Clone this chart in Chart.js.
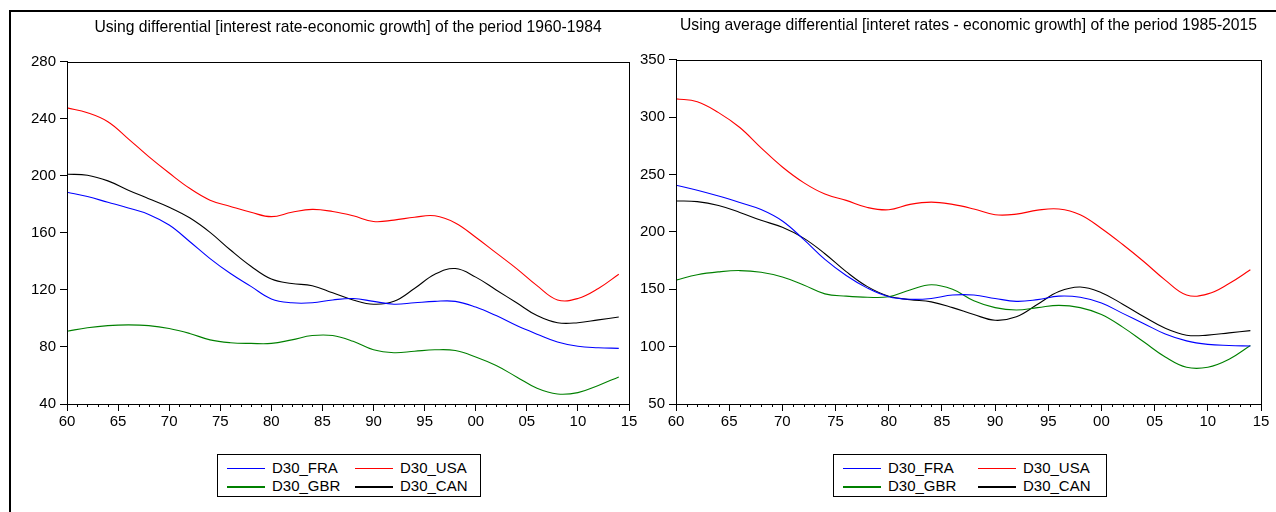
<!DOCTYPE html>
<html>
<head>
<meta charset="utf-8">
<script src="https://cdn.jsdelivr.net/npm/chart.js@4.4.0/dist/chart.umd.min.js"></script>
<style>
  html, body { margin: 0; padding: 0; background: #fff; }
  #page { position: relative; width: 1276px; height: 512px; overflow: hidden; font-family: "Liberation Sans", Arial, sans-serif; }
  #frame { position: absolute; left: 9px; top: 10px; width: 1300px; height: 600px; border-left: 2px solid #000; border-top: 2px solid #000; }
  canvas { position: absolute; top: 0; }
  .legend { position: absolute; top: 454px; height: 43px; border: 1px solid #000; box-sizing: border-box; background: #fff; }
  .legend .item { position: absolute; font-size: 15px; line-height: 18px; color: #000; white-space: nowrap; }
  .legend .swatch { position: absolute; top: 9px; width: 38px; }
  .legend .txt { position: absolute; left: 45px; top: 0; }
</style>
</head>
<body>
<div id="page">
  <div id="frame"></div>
  <canvas id="chartLeft" width="640" height="440" style="left:0"></canvas>
  <canvas id="chartRight" width="636" height="440" style="left:640px"></canvas>
  <div class="legend" id="legendLeft" style="left:217px; width:264px;"></div>
  <div class="legend" id="legendRight" style="left:833px; width:274px;"></div>
</div>
<script>
// years shared by both panels
var years = [1960, 1962, 1964, 1966, 1968, 1970, 1972, 1974, 1976, 1978, 1980, 1982, 1984, 1986,
             1988, 1990, 1992, 1994, 1996, 1998, 2000, 2002, 2004, 2006, 2008, 2010, 2012, 2014];

// left panel: differential of 1960-1984
var fraA = [188.5, 185.5, 181.5, 177.5, 173, 165.5, 154, 142, 131.5, 122.5, 113.7, 111, 111, 113,
            114, 112, 110, 111, 112, 112, 108, 102, 95, 89, 83.5, 80.5, 79.5, 79];
var usaA = [247.7, 244.3, 238, 226, 213.5, 202, 191.3, 183, 178.6, 174.5, 171.4, 174.5, 176.5, 175,
            172, 168, 169, 171, 172, 167, 157, 146, 135, 123, 113, 114, 121, 131];
var gbrA = [91, 93.5, 95, 95.5, 95, 93, 89.5, 85, 83, 82.5, 82.5, 85, 88, 88,
            84, 78, 76, 77, 78, 77.5, 73, 67, 59, 51, 47, 48, 53, 59];
var canA = [201.2, 200.5, 196.5, 190, 184, 178, 170.6, 160.4, 148, 136.6, 127.6, 124.5, 123, 118,
            113, 110, 112, 121, 131, 135, 129, 120, 111, 102, 97, 97, 99, 101];

// right panel: average differential of 1985-2015
var fraB = [240.7, 236.4, 231.3, 225.6, 219.5, 209.5, 193.5, 176, 162, 151, 143.5, 141.3, 142, 145,
            145, 142, 139.5, 141, 144, 143, 138, 129, 120, 111, 105, 102, 101, 100.5];
var usaB = [316, 313.5, 304, 291, 273.3, 256.6, 243, 233, 227.5, 221.3, 219.3, 224, 226, 224,
            220, 215, 215.5, 219, 220, 215, 203, 189, 174, 158, 145, 146, 155, 167];
var gbrB = [158, 162.7, 165.2, 166.3, 164.8, 160.7, 153.8, 146, 144, 143, 143.5, 149.4, 154, 150,
            140, 134, 132, 134, 136, 134, 128, 117, 104, 91, 82, 82, 89, 101];
var canB = [227, 226.4, 223, 217, 210.1, 204, 194.6, 181, 165.4, 152.3, 144, 141, 139, 134,
            128, 123, 126, 137, 148, 152, 147, 137, 126, 116, 110, 110, 112, 114];

var seriesNames = ["D30_FRA", "D30_USA", "D30_GBR", "D30_CAN"];
var seriesColors = ["#0000ff", "#ff0000", "#008000", "#000000"];
var legendLineWidths = [1, 1, 2, 2];

var yTicksA = [40, 80, 120, 160, 200, 240, 280];
var yTicksB = [50, 100, 150, 200, 250, 300, 350];

var font = { family: "'Liberation Sans', Arial, sans-serif", size: 15 };

function pairs(vals) {
    return vals.map(function (v, i) { return { x: years[i], y: v }; });
}

// box around the plot + the short yearly ticks under the x axis
var plotFrame = {
    id: 'plotFrame',
    afterDraw: function (chart) {
        var ctx = chart.ctx, a = chart.chartArea, xs = chart.scales.x;
        ctx.save();
        ctx.strokeStyle = '#000';
        ctx.lineWidth = 1;
        ctx.strokeRect(Math.round(a.left) + 0.5, Math.round(a.top) + 0.5,
                       Math.round(a.right - a.left), Math.round(a.bottom - a.top));
        ctx.beginPath();
        for (var yr = 1961; yr < 2015; yr++) {
            if (yr % 5 === 0) continue;
            var px = Math.round(xs.getPixelForValue(yr)) + 0.5;
            ctx.moveTo(px, a.bottom);
            ctx.lineTo(px, a.bottom + 3);
        }
        ctx.stroke();
        ctx.restore();
    }
};

function makeChart(id, title, sets, yTicks, pad, yWidth, titlePad) {
    return new Chart(document.getElementById(id), {
        type: 'line',
        data: {
            datasets: sets.map(function (vals, i) {
                return {
                    label: seriesNames[i],
                    data: pairs(vals),
                    borderColor: seriesColors[i],
                    backgroundColor: seriesColors[i],
                    borderWidth: 1.1,
                    pointRadius: 0,
                    tension: 0.4,
                    fill: false
                };
            })
        },
        options: {
            responsive: false,
            animation: false,
            devicePixelRatio: 1,
            layout: { padding: pad },
            plugins: {
                legend: { display: false },
                tooltip: { enabled: false },
                title: {
                    display: true,
                    text: title,
                    color: '#000',
                    fullSize: false,
                    font: { family: font.family, size: 15.7, weight: 'normal' },
                    padding: titlePad
                }
            },
            scales: {
                x: {
                    type: 'linear',
                    min: 1960,
                    max: 2015,
                    border: { display: true, color: '#000', width: 1 },
                    grid: { drawOnChartArea: false, tickLength: 7, color: '#000' },
                    ticks: {
                        stepSize: 5,
                        autoSkip: false,
                        maxRotation: 0,
                        padding: 2,
                        color: '#000',
                        font: font,
                        callback: function (v) { return String(v % 100).padStart(2, '0'); }
                    },
                    afterFit: function (s) { s.height = 30; }
                },
                y: {
                    min: yTicks[0],
                    max: yTicks[yTicks.length - 1],
                    border: { display: true, color: '#000', width: 1 },
                    grid: { drawOnChartArea: false, tickLength: 7, color: '#000' },
                    ticks: {
                        stepSize: yTicks[1] - yTicks[0],
                        padding: 4,
                        color: '#000',
                        font: font
                    },
                    afterFit: function (s) { s.width = yWidth; }
                }
            }
        },
        plugins: [plotFrame]
    });
}

var chartA = makeChart('chartLeft',
    'Using differential [interest rate-economic growth] of the period 1960-1984',
    [fraA, usaA, gbrA, canA], yTicksA,
    { left: 17, right: 11, top: 0, bottom: 6 }, 50, { top: 18, bottom: 25 });

var chartB = makeChart('chartRight',
    'Using average differential [interet rates - economic growth] of the period 1985-2015',
    [fraB, usaB, gbrB, canB], yTicksB,
    { left: 0, right: 15, top: 0, bottom: 6 }, 36, { top: 16, bottom: 25 });

// html legend, 2 x 2, built from the chart datasets
function buildLegend(chart, boxId, colStep) {
    var box = document.getElementById(boxId);
    chart.data.datasets.forEach(function (ds, i) {
        var item = document.createElement('div');
        item.className = 'item';
        item.style.left = (9 + (i % 2) * colStep) + 'px';
        item.style.top = (4 + Math.floor(i / 2) * 18) + 'px';
        var sw = document.createElement('span');
        sw.className = 'swatch';
        sw.style.borderTop = legendLineWidths[i] + 'px solid ' + ds.borderColor;
        var tx = document.createElement('span');
        tx.className = 'txt';
        tx.textContent = ds.label;
        item.appendChild(sw);
        item.appendChild(tx);
        box.appendChild(item);
    });
}
buildLegend(chartA, 'legendLeft', 128);
buildLegend(chartB, 'legendRight', 135);
</script>
</body>
</html>
